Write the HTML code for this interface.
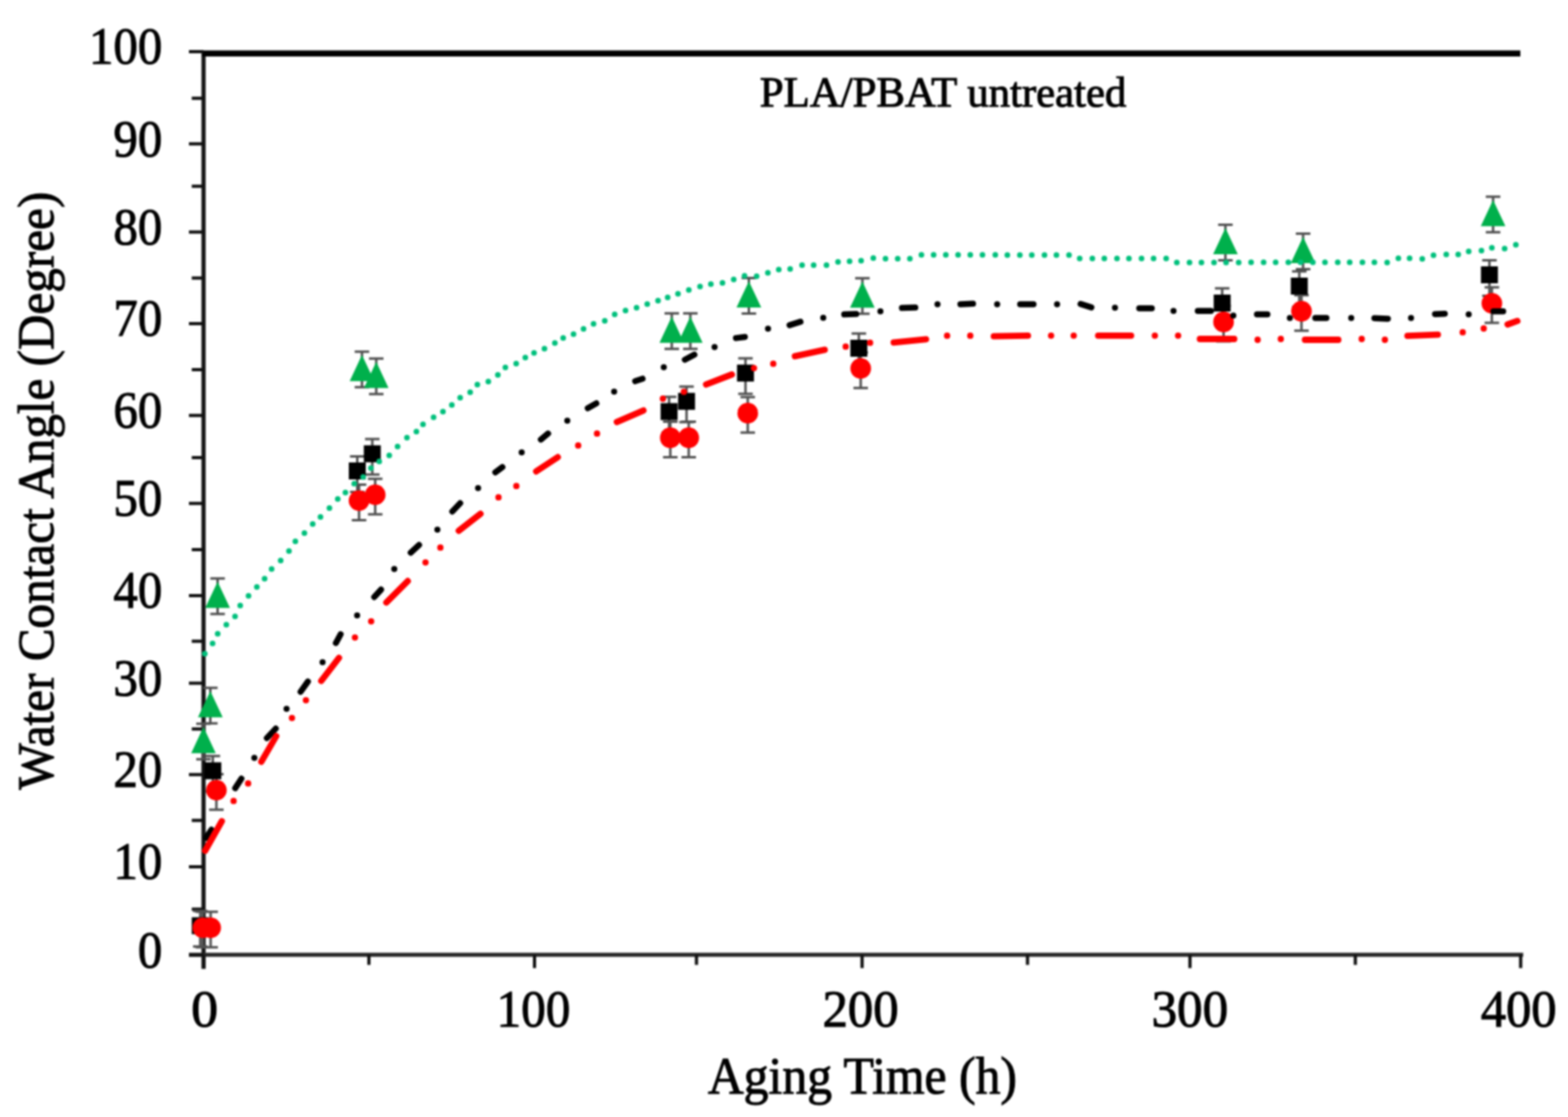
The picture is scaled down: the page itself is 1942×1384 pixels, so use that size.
<!DOCTYPE html>
<html><head><meta charset="utf-8"><title>Water Contact Angle vs Aging Time</title>
<style>html,body{margin:0;padding:0;background:#fff;}body{width:1942px;height:1384px;overflow:hidden;}svg{display:block;filter:blur(0.9px);}</style>
</head><body>
<svg width="1942" height="1384" viewBox="0 0 1942 1384">
<rect width="1942" height="1384" fill="#fff"/>
<path d="M252.1,63V1200.5" stroke="#141414" stroke-width="5.2" fill="none"/>
<path d="M234,1183.0H1886.5" stroke="#262626" stroke-width="5" fill="none"/>
<path d="M250.1,66.3H1883" stroke="#000" stroke-width="7.6" fill="none"/>
<path d="M234.0,64.1H252.1 M237.5,121.8H252.1 M234.0,178.2H252.1 M237.5,230.7H252.1 M234.0,287.5H252.1 M237.5,344.4H252.1 M234.0,401.1H252.1 M237.5,458.0H252.1 M234.0,514.8H252.1 M237.5,567.1H252.1 M234.0,623.8H252.1 M237.5,680.9H252.1 M234.0,738.0H252.1 M237.5,794.4H252.1 M234.0,846.4H252.1 M237.5,903.2H252.1 M234.0,959.8H252.1 M237.5,1016.5H252.1 M234.0,1074.0H252.1 M237.5,1126.4H252.1 M234.0,1183.3H252.1 M252.2,1183.0V1199.5 M456.9,1183.0V1195.5 M662.0,1183.0V1199.5 M862.6,1183.0V1195.5 M1067.7,1183.0V1199.5 M1272.6,1183.0V1195.5 M1473.8,1183.0V1199.5 M1678.6,1183.0V1195.5 M1883.4,1183.0V1199.5" stroke="#111" stroke-width="4" fill="none"/>
<g font-family='"Liberation Serif", "Times New Roman", serif' font-size="65.0" fill="#000" stroke="#000" stroke-width="1.2"><text x="170.68" y="1198.6" textLength="30.23" lengthAdjust="spacingAndGlyphs">0</text><text x="140.45" y="1089.3" textLength="60.45" lengthAdjust="spacingAndGlyphs">10</text><text x="140.45" y="975.1" textLength="60.45" lengthAdjust="spacingAndGlyphs">20</text><text x="140.45" y="861.7" textLength="60.45" lengthAdjust="spacingAndGlyphs">30</text><text x="140.45" y="753.3" textLength="60.45" lengthAdjust="spacingAndGlyphs">40</text><text x="140.45" y="639.1" textLength="60.45" lengthAdjust="spacingAndGlyphs">50</text><text x="140.45" y="530.1" textLength="60.45" lengthAdjust="spacingAndGlyphs">60</text><text x="140.45" y="416.4" textLength="60.45" lengthAdjust="spacingAndGlyphs">70</text><text x="140.45" y="302.8" textLength="60.45" lengthAdjust="spacingAndGlyphs">80</text><text x="140.45" y="193.5" textLength="60.45" lengthAdjust="spacingAndGlyphs">90</text><text x="110.23" y="79.4" textLength="90.68" lengthAdjust="spacingAndGlyphs">100</text><text x="236.76" y="1272.3" textLength="33.39" lengthAdjust="spacingAndGlyphs">0</text><text x="615.05" y="1272.3" textLength="91.26" lengthAdjust="spacingAndGlyphs">100</text><text x="1018.63" y="1272.3" textLength="94.47" lengthAdjust="spacingAndGlyphs">200</text><text x="1426.17" y="1272.3" textLength="95.05" lengthAdjust="spacingAndGlyphs">300</text><text x="1833.88" y="1272.3" textLength="94.01" lengthAdjust="spacingAndGlyphs">400</text></g>
<text x="876.7" y="1355.0" textLength="382.78" lengthAdjust="spacingAndGlyphs" font-family='"Liberation Serif", "Times New Roman", serif' font-size="65.5" fill="#000" stroke="#000" stroke-width="1.2">Aging Time (h)</text>
<text transform="translate(65.5,978.46) rotate(-90)" textLength="740.9" lengthAdjust="spacingAndGlyphs" font-family='"Liberation Serif", "Times New Roman", serif' font-size="63.5" fill="#000" stroke="#000" stroke-width="1.2">Water Contact Angle (Degree)</text>
<text x="941.1" y="132.3" textLength="454.04" lengthAdjust="spacingAndGlyphs" font-family='"Liberation Serif", "Times New Roman", serif' font-size="53.0" fill="#000" stroke="#000" stroke-width="1.2">PLA/PBAT untreated</text>
<g stroke="#505050" stroke-width="3.0" fill="none">
<path d="M252.0,896.7V940.7M243.0,896.7H261.0M243.0,940.7H261.0M260.5,852.2V896.2M251.5,852.2H269.5M251.5,896.2H269.5M269.5,716.7V760.7M260.5,716.7H278.5M260.5,760.7H278.5M448.3,435.7V479.7M439.3,435.7H457.3M439.3,479.7H457.3M466.0,444.2V488.2M457.0,444.2H475.0M457.0,488.2H475.0M832.0,388.2V432.2M823.0,388.2H841.0M823.0,432.2H841.0M855.0,388.2V432.2M846.0,388.2H864.0M846.0,432.2H864.0M927.5,344.5V388.5M918.5,344.5H936.5M918.5,388.5H936.5M1068.1,344.7V388.7M1059.1,344.7H1077.1M1059.1,388.7H1077.1M1517.7,278.6V322.6M1508.7,278.6H1526.7M1508.7,322.6H1526.7M1613.9,289.5V333.5M1604.9,289.5H1622.9M1604.9,333.5H1622.9M1849.2,243.7V287.7M1840.2,243.7H1858.2M1840.2,287.7H1858.2"/>
<path d="M248.0,1128.8V1172.8M239.0,1128.8H257.0M239.0,1172.8H257.0M263.6,936.8V980.8M254.6,936.8H272.6M254.6,980.8H272.6M442.5,565.4V609.4M433.5,565.4H451.5M433.5,609.4H451.5M461.1,544.1V588.1M452.1,544.1H470.1M452.1,588.1H470.1M828.7,491.8V535.8M819.7,491.8H837.7M819.7,535.8H837.7M850.3,479.0V523.0M841.3,479.0H859.3M841.3,523.0H859.3M923.3,444.0V488.0M914.3,444.0H932.3M914.3,488.0H932.3M1063.7,413.2V457.2M1054.7,413.2H1072.7M1054.7,457.2H1072.7M1513.7,357.3V401.3M1504.7,357.3H1522.7M1504.7,401.3H1522.7M1609.2,336.2V380.2M1600.2,336.2H1618.2M1600.2,380.2H1618.2M1844.7,322.4V366.4M1835.7,322.4H1853.7M1835.7,366.4H1853.7"/>
<path d="M251.3,1129.7V1173.7M242.3,1129.7H260.3M242.3,1173.7H260.3M260.9,1129.7V1173.7M251.9,1129.7H269.9M251.9,1173.7H269.9M268.0,959.2V1003.2M259.0,959.2H277.0M259.0,1003.2H277.0M444.7,600.4V644.4M435.7,600.4H453.7M435.7,644.4H453.7M464.7,593.2V637.2M455.7,593.2H473.7M455.7,637.2H473.7M830.2,522.6V566.6M821.2,522.6H839.2M821.2,566.6H839.2M853.0,522.6V566.6M844.0,522.6H862.0M844.0,566.6H862.0M926.1,492.1V536.1M917.1,492.1H935.1M917.1,536.1H935.1M1066.0,436.7V480.7M1057.0,436.7H1075.0M1057.0,480.7H1075.0M1515.4,379.1V423.1M1506.4,379.1H1524.4M1506.4,423.1H1524.4M1611.9,365.8V409.8M1602.9,365.8H1620.9M1602.9,409.8H1620.9M1847.7,355.9V399.9M1838.7,355.9H1856.7M1838.7,399.9H1856.7"/>
</g>
<path d="M237.5,1136.5h21.0v21.0h-21.0ZM253.1,944.5h21.0v21.0h-21.0ZM432.0,573.1h21.0v21.0h-21.0ZM450.6,551.8h21.0v21.0h-21.0ZM818.2,499.5h21.0v21.0h-21.0ZM839.8,486.7h21.0v21.0h-21.0ZM912.8,451.7h21.0v21.0h-21.0ZM1053.2,420.9h21.0v21.0h-21.0ZM1503.2,365.0h21.0v21.0h-21.0ZM1598.7,343.9h21.0v21.0h-21.0ZM1834.2,330.1h21.0v21.0h-21.0Z" fill="#000"/>
<path d="M252.0,900.8L267.2,933.2L236.8,933.2ZM260.5,856.2L275.8,888.8L245.2,888.8ZM269.5,720.8L284.8,753.2L254.2,753.2ZM448.3,439.8L463.6,472.2L433.1,472.2ZM466.0,448.2L481.2,480.8L450.8,480.8ZM832.0,392.2L847.2,424.8L816.8,424.8ZM855.0,392.2L870.2,424.8L839.8,424.8ZM927.5,348.6L942.8,381.1L912.2,381.1ZM1068.1,348.8L1083.3,381.2L1052.8,381.2ZM1517.7,282.6L1533.0,315.1L1502.5,315.1ZM1613.9,293.6L1629.2,326.1L1598.7,326.1ZM1849.2,247.8L1864.5,280.2L1834.0,280.2Z" fill="#00b04c"/>
<g fill="#ff0000"><circle cx="251.3" cy="1149.5" r="12.8"/><circle cx="260.9" cy="1149.5" r="12.8"/><circle cx="268.0" cy="979.0" r="12.8"/><circle cx="444.7" cy="620.2" r="12.8"/><circle cx="464.7" cy="613.0" r="12.8"/><circle cx="830.2" cy="542.4" r="12.8"/><circle cx="853.0" cy="542.4" r="12.8"/><circle cx="926.1" cy="511.9" r="12.8"/><circle cx="1066.0" cy="456.5" r="12.8"/><circle cx="1515.4" cy="398.9" r="12.8"/><circle cx="1611.9" cy="385.6" r="12.8"/><circle cx="1847.7" cy="375.7" r="12.8"/></g>
<path d="M255.2,1038.1L261.9,1028.0M291.3,976.6L299.0,964.8M315.0,939.0h0.01M330.5,914.5L341.5,902.8M354.9,878.3h0.01M372.3,857.1L381.3,844.5M399.5,820.6h0.01M416.0,796.7L421.8,785.9M442.3,762.6h0.01M463.5,739.7L471.9,730.6M488.3,705.0h0.01M508.7,684.7L519.0,675.2M541.7,656.3h0.01M560.2,633.8L569.9,623.5M592.1,604.7h0.01M613.5,585.3L622.2,578.7M646.1,560.5h0.01M669.9,544.6L678.8,537.1M702.6,521.2h0.01M728.0,505.8L738.6,499.8M760.6,485.2h0.01M786.7,472.3L795.8,469.2M822.1,455.0h0.01M848.2,445.7L860.0,439.4M885.0,430.1h0.01M911.5,418.9L922.5,417.5M951.2,407.3h0.01M977.9,402.9L991.4,398.7M1019.6,393.7h0.01M1045.6,389.6L1060.4,389.0M1090.4,385.7h0.01M1117.1,381.6L1133.6,381.1M1161.1,377.0h0.01M1189.5,376.9L1205.1,376.3M1235.0,377.0h0.01M1263.5,377.1L1280.0,377.1M1309.2,377.1h0.01M1338.3,376.6L1351.7,380.9M1380.9,381.2h0.01M1411.0,382.0L1426.5,382.0M1453.4,385.3h0.01M1483.5,385.3L1499.8,385.3M1527.5,391.1h0.01M1556.8,389.4L1569.7,389.4M1597.5,394.1h0.01M1629.0,394.1L1642.8,394.1M1673.5,394.1h0.01M1702.2,394.2L1718.9,394.9M1747.6,394.1h0.01M1777.3,389.2L1789.4,388.7M1819.0,389.4h0.01M1849.7,385.7L1861.7,385.7" fill="none" stroke="#000" stroke-width="7.5" stroke-linecap="round"/>
<path d="M254.1,1054.0L274.7,1017.5M289.3,992.4h0.01M307.3,970.7h0.01M323.7,943.8L342.1,912.1M361.6,889.6h0.01M378.9,867.6h0.01M397.9,843.7L419.8,815.1M439.6,789.8h0.01M459.7,769.8h0.01M478.5,746.4L505.0,719.9M527.0,696.8h0.01M545.4,678.4h0.01M568.2,657.6L595.1,636.6M617.4,616.2h0.01M639.5,602.2h0.01M664.1,584.1L690.8,566.4M716.1,551.9h0.01M739.4,537.2h0.01M764.0,522.9L796.9,508.6M821.0,494.0h0.01M847.0,485.4h0.01M874.5,476.4L906.4,464.0M933.8,456.1h0.01M957.7,450.7h0.01M984.5,441.4L1021.4,433.4M1047.4,429.4h0.01M1077.6,424.7h0.01M1106.9,424.3L1146.9,420.3M1173.0,415.9h0.01M1201.7,415.9h0.01M1230.9,416.6L1273.1,415.9M1301.8,415.8h0.01M1329.8,415.8h0.01M1360.1,415.8L1400.9,415.8M1430.3,415.8h0.01M1459.1,415.8h0.01M1486.1,420.0L1528.6,420.0M1557.6,421.0h0.01M1586.3,420.0h0.01M1616.2,421.0L1657.5,421.0M1686.5,420.0h0.01M1715.2,421.0h0.01M1743.2,416.1L1780.8,414.7M1811.6,411.7h0.01M1837.6,407.0h0.01M1867.2,402.0L1879.3,397.7" fill="none" stroke="#ff0000" stroke-width="7.8" stroke-linecap="round"/>
<path d="M253.7,809.9h0.01M263.3,797.2h0.01M269.6,785.2h0.01M280.3,774.1h0.01M291.1,763.8h0.01M297.5,750.3h0.01M307.8,738.3h0.01M318.1,727.2h0.01M327.7,716.9h0.01M336.4,704.9h0.01M347.6,694.6h0.01M357.9,682.7h0.01M365.8,670.8h0.01M377.0,660.4h0.01M387.3,649.3h0.01M396.9,640.5h0.01M408.0,629.4h0.01M418.3,618.3h0.01M427.8,610.2h0.01M438.8,599.2h0.01M449.8,591.0h0.01M459.4,580.0h0.01M469.7,571.8h0.01M482.1,564.2h0.01M492.4,553.2h0.01M504.0,542.3h0.01M515.7,534.7h0.01M523.9,525.8h0.01M537.0,516.9h0.01M548.6,510.0h0.01M559.6,501.8h0.01M569.9,492.8h0.01M582.3,486.0h0.01M591.2,476.4h0.01M604.8,472.8h0.01M616.6,464.5h0.01M625.9,455.3h0.01M639.3,450.6h0.01M650.6,442.9h0.01M661.4,437.2h0.01M674.3,432.1h0.01M687.2,424.9h0.01M697.5,418.7h0.01M710.3,414.1h0.01M722.7,407.4h0.01M735.1,401.2h0.01M749.0,397.6h0.01M761.3,389.4h0.01M774.7,384.7h0.01M788.4,381.2h0.01M801.6,376.7h0.01M815.0,372.6h0.01M826.9,368.5h0.01M839.7,363.9h0.01M853.1,359.2h0.01M867.0,355.1h0.01M880.4,352.0h0.01M894.8,350.5h0.01M908.7,346.3h0.01M922.1,341.7h0.01M937.1,342.2h0.01M951.0,338.1h0.01M964.5,334.0h0.01M978.6,333.2h0.01M993.4,328.5h0.01M1007.7,328.5h0.01M1023.6,328.5h0.01M1037.9,324.5h0.01M1052.2,323.7h0.01M1066.5,322.9h0.01M1081.6,319.7h0.01M1096.7,320.5h0.01M1111.8,320.5h0.01M1126.9,320.5h0.01M1141.2,315.8h0.01M1156.3,315.8h0.01M1171.4,315.8h0.01M1186.6,315.8h0.01M1201.7,315.8h0.01M1216.8,315.8h0.01M1232.7,315.8h0.01M1247.6,316.0h0.01M1263.1,316.1h0.01M1277.9,316.1h0.01M1293.6,316.1h0.01M1308.4,316.1h0.01M1324.0,316.1h0.01M1337.2,320.3h0.01M1352.9,320.3h0.01M1367.7,320.3h0.01M1383.4,320.3h0.01M1398.2,320.3h0.01M1413.8,320.3h0.01M1428.7,320.3h0.01M1444.3,320.3h0.01M1457.5,325.2h0.01M1473.2,325.2h0.01M1488.0,325.2h0.01M1503.6,325.2h0.01M1518.5,325.2h0.01M1534.1,325.2h0.01M1549.5,325.0h0.01M1565.0,325.0h0.01M1579.9,325.0h0.01M1595.6,325.0h0.01M1610.8,325.0h0.01M1626.0,325.0h0.01M1641.0,325.0h0.01M1656.8,325.0h0.01M1671.6,325.0h0.01M1687.4,325.0h0.01M1702.2,325.0h0.01M1718.0,325.3h0.01M1731.9,319.9h0.01M1745.8,319.9h0.01M1761.5,320.8h0.01M1775.4,316.2h0.01M1791.2,315.3h0.01M1806.0,315.3h0.01M1819.0,311.6h0.01M1834.8,310.6h0.01M1847.7,306.9h0.01M1863.5,307.9h0.01M1877.4,303.2h0.01" fill="none" stroke="#00c07c" stroke-width="7.0" stroke-linecap="round"/>
</svg>
</body></html>
